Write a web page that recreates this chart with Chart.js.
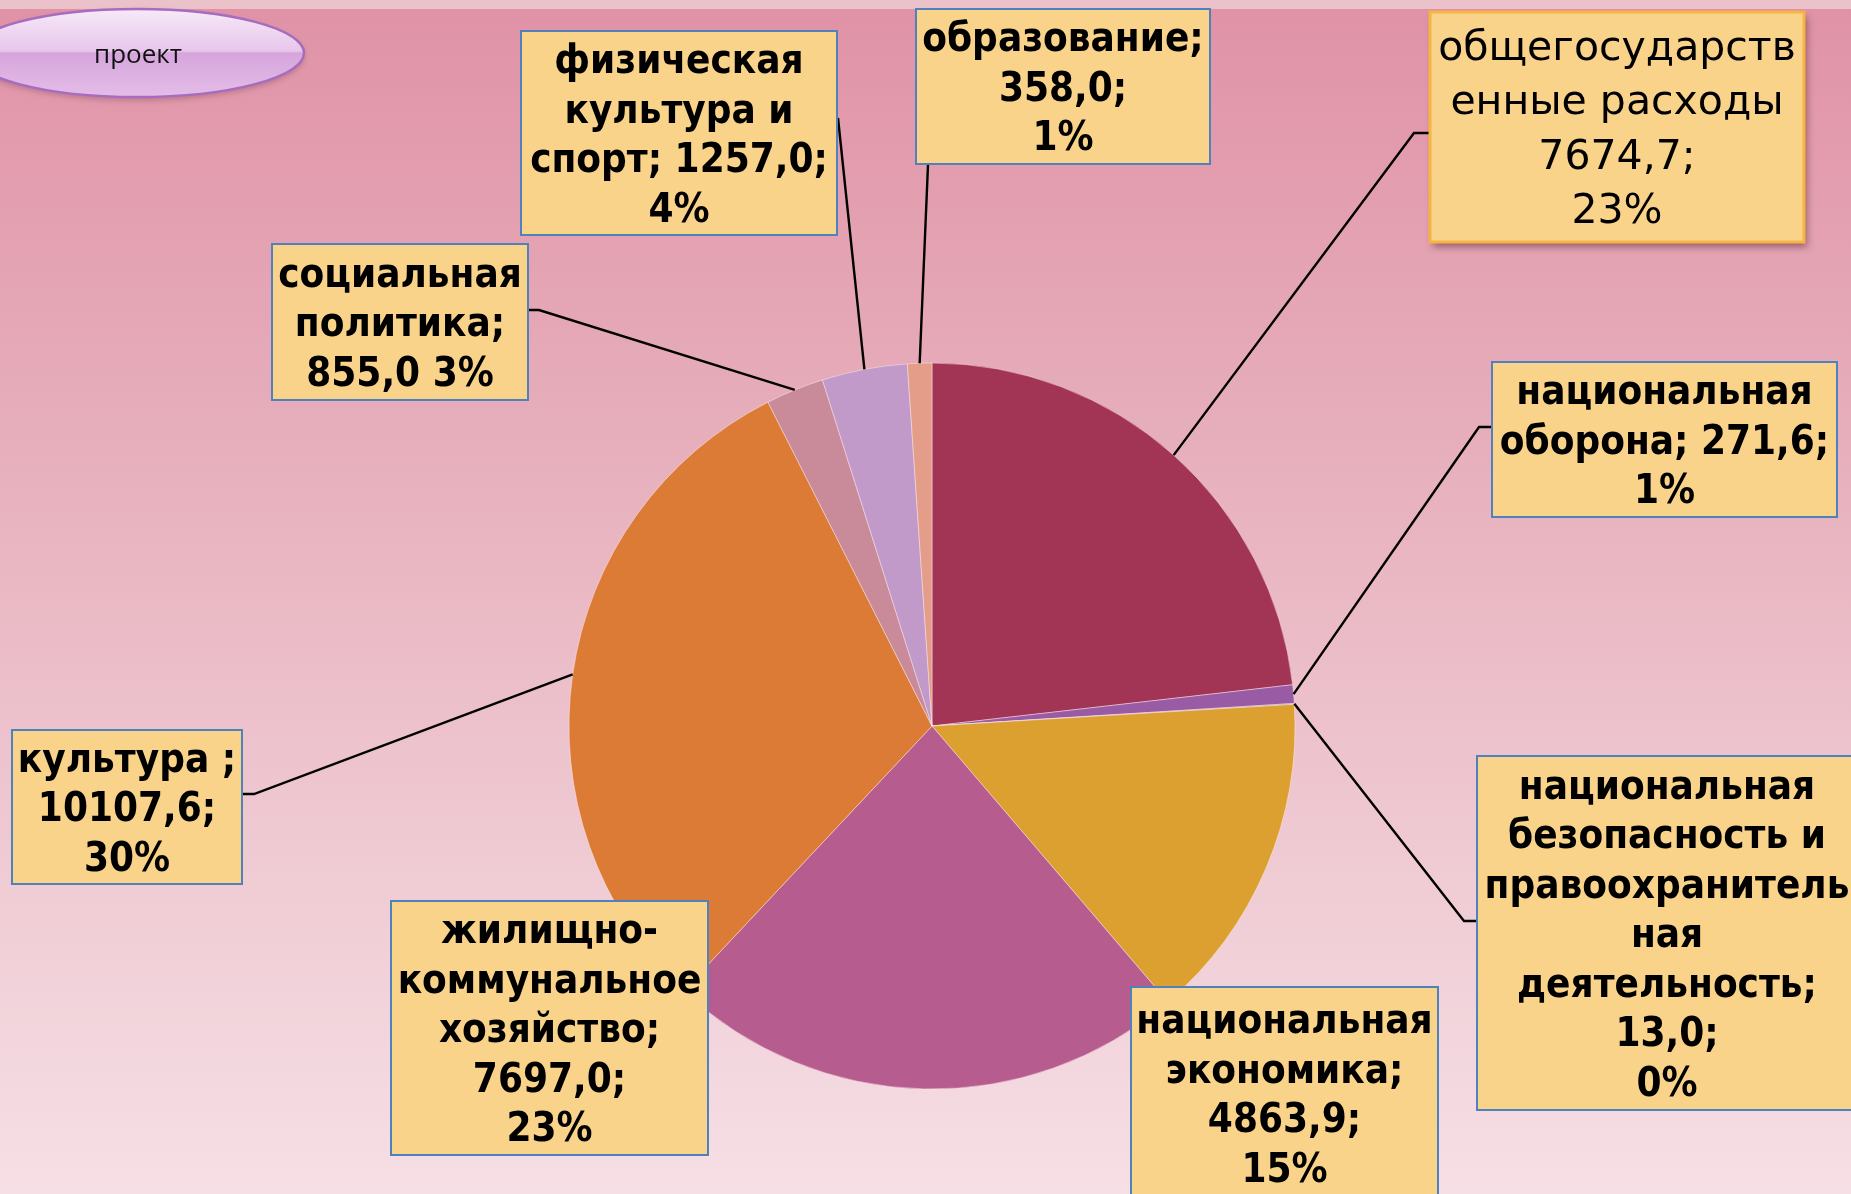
<!DOCTYPE html>
<html lang="ru">
<head>
<meta charset="utf-8">
<title>Структура расходов — проект</title>
<script src="https://cdn.jsdelivr.net/npm/chart.js@4.4.1/dist/chart.umd.min.js"></script>
<style>
  html, body { margin: 0; padding: 0; overflow: hidden; background: #f5dde3; }
  #wrap { position: relative; width: 1851px; height: 1194px; }
  canvas { display: block; }
</style>
</head>
<body>
<div id="wrap"><canvas id="budgetChart" width="1851" height="1194"></canvas></div>
<script>
// ── Data (clockwise from 12 o'clock) ────────────────
const categories = [
  'общегосударственные расходы',
  'национальная оборона',
  'национальная безопасность и правоохранительная деятельность',
  'национальная экономика',
  'жилищно-коммунальное хозяйство',
  'культура',
  'социальная политика',
  'физическая культура и спорт',
  'образование',
];
const values = [7674.7, 271.6, 13.0, 4863.9, 7697.0, 10107.6, 855.0, 1257.0, 358.0];
const percentLabels = ['23%', '1%', '0%', '15%', '23%', '30%', '3%', '4%', '1%'];
const sliceColors = [
  '#a23456', '#9a5ba5', '#8064a2', '#dca031', '#b65c8e',
  '#db7b35', '#c98a9a', '#c29aca', '#e39d88',
];

// label text, wrapped the way it is on the slide
const labelLines = [
  ['общегосударств', 'енные расходы', '7674,7;', '23%'],
  ['национальная', 'оборона; 271,6;', '1%'],
  ['национальная', 'безопасность и', 'правоохранитель', 'ная', 'деятельность;', '13,0;', '0%'],
  ['национальная', 'экономика;', '4863,9;', '15%'],
  ['жилищно-', 'коммунальное', 'хозяйство;', '7697,0;', '23%'],
  ['культура ;', '10107,6;', '30%'],
  ['социальная', 'политика;', '855,0 3%'],
  ['физическая', 'культура и', 'спорт; 1257,0;', '4%'],
  ['образование;', '358,0;', '1%'],
];

// ── Callout box layout ──────────────────────────────
const BOXES = [
  { x: 1430, y: 12, w: 374, h: 230, leader: [[1414, 133], [1430, 133]], accent: true },
  { x: 1492, y: 362, w: 345, h: 155, leader: [[1479, 427], [1492, 427]] },
  { x: 1477, y: 756, w: 380, h: 354, leader: [[1464, 921], [1477, 921]] },
  { x: 1131, y: 987, w: 307, h: 212 },
  { x: 391, y: 901, w: 317, h: 254 },
  { x: 12, y: 730, w: 230, h: 154, leader: [[254, 794], [242, 794]] },
  { x: 272, y: 244, w: 256, h: 156, leader: [[539, 310], [528, 310]] },
  { x: 521, y: 31, w: 316, h: 204, leader: [[838, 118]] },
  { x: 916, y: 9, w: 294, h: 155, leader: [[928, 165]] },
];

const BOLD_FONT = 'bold 40px "DejaVu Sans Condensed", "DejaVu Sans", sans-serif';
const PLAIN_FONT = '41px "DejaVu Sans", sans-serif';

// ── Slide background + "проект" badge ───────────────
const backdrop = {
  id: 'backdrop',
  beforeDraw(chart) {
    const { ctx, width, height } = chart;
    ctx.save();
    const g = ctx.createLinearGradient(0, 0, 0, height);
    g.addColorStop(0, '#e092a6');
    g.addColorStop(0.35, '#e6adba');
    g.addColorStop(0.7, '#efc9d2');
    g.addColorStop(1, '#f6dfe5');
    ctx.fillStyle = g;
    ctx.fillRect(0, 0, width, height);
    ctx.fillStyle = '#ebc2ca';
    ctx.fillRect(0, 0, width, 9);

    // oval badge
    const og = ctx.createLinearGradient(0, 9, 0, 97);
    og.addColorStop(0, '#f7e9f8');
    og.addColorStop(0.48, '#e7c6eb');
    og.addColorStop(0.5, '#d6a5dc');
    og.addColorStop(1, '#e4bde8');
    ctx.shadowColor = 'rgba(80, 30, 60, 0.3)';
    ctx.shadowBlur = 6;
    ctx.shadowOffsetY = 3;
    ctx.beginPath();
    ctx.ellipse(137, 53, 167, 44, 0, 0, Math.PI * 2);
    ctx.fillStyle = og;
    ctx.fill();
    ctx.shadowColor = 'transparent';
    ctx.lineWidth = 2.5;
    ctx.strokeStyle = '#a66cbf';
    ctx.stroke();
    ctx.fillStyle = '#111';
    ctx.font = '26px "Open Sans", sans-serif';
    ctx.textAlign = 'center';
    ctx.textBaseline = 'middle';
    ctx.fillText('проект', 138, 56);
    ctx.restore();
  },
};

// ── Leader lines and label boxes ────────────────────
const calloutLabels = {
  id: 'calloutLabels',
  afterDatasetsDraw(chart) {
    const { ctx } = chart;
    const arcs = chart.getDatasetMeta(0).data;
    ctx.save();

    ctx.strokeStyle = '#000';
    ctx.lineWidth = 2.4;
    BOXES.forEach((box, i) => {
      if (!box.leader) return;
      const { x, y, startAngle, endAngle, outerRadius } = arcs[i].getProps(
        ['x', 'y', 'startAngle', 'endAngle', 'outerRadius'], true);
      const mid = (startAngle + endAngle) / 2;
      ctx.beginPath();
      ctx.moveTo(x + Math.cos(mid) * outerRadius, y + Math.sin(mid) * outerRadius);
      box.leader.forEach(([px, py]) => ctx.lineTo(px, py));
      ctx.stroke();
    });

    BOXES.forEach((box, i) => {
      ctx.save();
      if (box.accent) {
        ctx.shadowColor = 'rgba(60, 20, 30, 0.45)';
        ctx.shadowBlur = 7;
        ctx.shadowOffsetX = 3;
        ctx.shadowOffsetY = 5;
      }
      ctx.fillStyle = '#f9d38a';
      ctx.fillRect(box.x, box.y, box.w, box.h);
      ctx.restore();
      ctx.lineWidth = box.accent ? 3 : 2;
      ctx.strokeStyle = box.accent ? '#f6b443' : '#4f81bd';
      ctx.strokeRect(box.x, box.y, box.w, box.h);

      const lines = labelLines[i];
      const step = box.accent ? 54.5 : 49.5;
      const cx = box.x + box.w / 2;
      const cy = box.y + box.h / 2 + 4;
      ctx.font = box.accent ? PLAIN_FONT : BOLD_FONT;
      ctx.fillStyle = '#000';
      ctx.textAlign = 'center';
      ctx.textBaseline = 'middle';
      lines.forEach((line, k) => {
        ctx.fillText(line, cx, cy + (k - (lines.length - 1) / 2) * step);
      });
    });
    ctx.restore();
  },
};

// ── Chart ───────────────────────────────────────────
const ctx = document.getElementById('budgetChart').getContext('2d');
const budgetChart = new Chart(ctx, {
  type: 'pie',
  data: {
    labels: categories,
    datasets: [{
      data: values,
      backgroundColor: sliceColors,
      borderColor: 'rgba(255, 240, 240, 0.45)',
      borderWidth: 1,
      hoverOffset: 0,
    }],
  },
  options: {
    responsive: false,
    animation: false,
    devicePixelRatio: 1,
    radius: 363,
    layout: { padding: { left: 569, right: 556, top: 363, bottom: 105 } },
    plugins: {
      legend: { display: false },
      tooltip: { enabled: false },
    },
  },
  plugins: [backdrop, calloutLabels],
});
</script>
</body>
</html>
